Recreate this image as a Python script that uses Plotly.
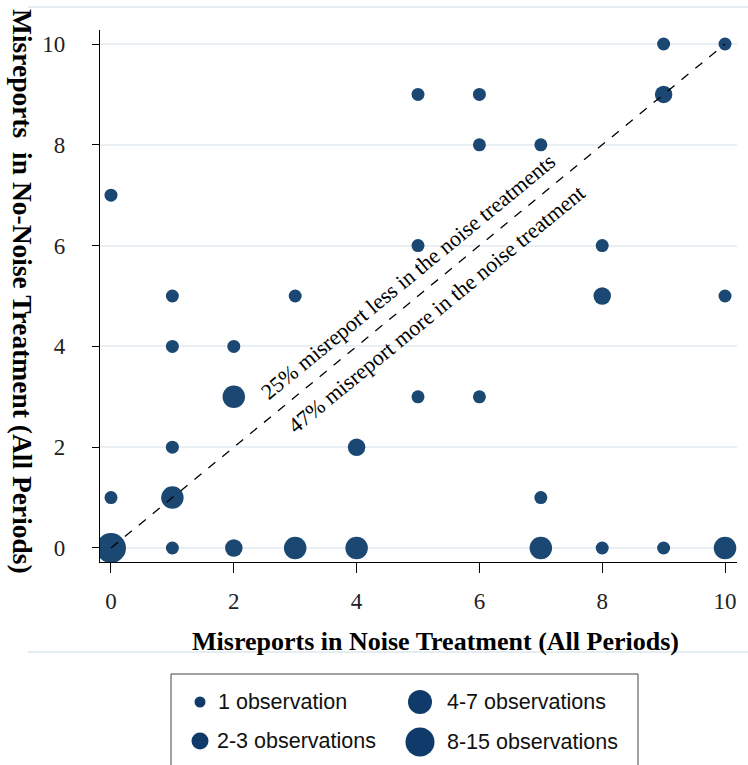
import math
import plotly.graph_objects as go

# ---------------- data ----------------
# misreports in noise treatment (x), in no-noise treatment (y), size class (0..3)
noise_x    = [9, 10, 5, 6, 9, 6, 7, 0, 5, 8, 1, 3, 8, 10, 1, 2, 2, 5, 6, 1, 4, 0, 1, 7, 0, 1, 2, 3, 4, 7, 8, 9, 10]
nonoise_y  = [10, 10, 9, 9, 9, 8, 8, 7, 6, 6, 5, 5, 5, 5, 4, 4, 3, 3, 3, 2, 2, 1, 1, 1, 0, 0, 0, 0, 0, 0, 0, 0, 0]
size_class = [0, 0, 0, 0, 1, 0, 0, 0, 0, 0, 0, 0, 1, 0, 0, 0, 2, 0, 0, 0, 1, 0, 2, 0, 3, 0, 1, 2, 2, 2, 0, 0, 2]

legend_labels = ["1 observation", "2-3 observations", "4-7 observations", "8-15 observations"]
tick_vals = [0, 2, 4, 6, 8, 10]
diag = [0, 10]
note_above = "25% misreport less in the noise treatments"
note_below = "47% misreport more in the noise treatment"
x_title = "Misreports in Noise Treatment (All Periods)"
y_title = "Misreports  in No-Noise Treatment (All Periods)"

# ---------------- styling ----------------
W, H = 748, 765
plot_sizes = [13, 17.5, 22.5, 30]
legend_sizes = [11, 17, 24, 29]
marker_color = "#1b4872"
legend_color = "#0f3a69"
grid_color = "#e9eff3"
serif = "Liberation Serif, Times New Roman, serif"
sans = "Liberation Sans, Arial, sans-serif"

def px(x):
    return x / W

def py(y):
    return 1 - y / H

# plot area in pixels
L, R, T, B = 100, 737, 30, 562
xr = [-0.179, 10.195]
yr = [-0.278, 10.278]

fig = go.Figure()

fig.add_trace(go.Scatter(
    x=noise_x, y=nonoise_y, mode="markers",
    marker=dict(size=[plot_sizes[c] for c in size_class], color=marker_color,
                opacity=1, line=dict(width=0)),
    showlegend=False, hoverinfo="x+y",
))

fig.add_trace(go.Scatter(
    x=diag, y=diag, mode="lines",
    line=dict(color="black", width=1.3, dash="dash"),
    showlegend=False, hoverinfo="skip",
))

# custom legend (second hidden axis pair placed in the legend box)
lx0, lx1, ly0 = 171, 638, 674
col_x = [200, 200, 420, 420]
row_y = [702, 741, 702, 742]
text_x = [216, 215, 445, 445]
fig.add_trace(go.Scatter(
    x=col_x, y=row_y, xaxis="x2", yaxis="y2", mode="markers",
    marker=dict(size=legend_sizes, color=legend_color, opacity=1, line=dict(width=0)),
    showlegend=False, hoverinfo="skip",
))
for i, lab in enumerate(legend_labels):
    fig.add_annotation(x=text_x[i], y=row_y[i], xref="x2", yref="y2", text=lab,
                       showarrow=False, xanchor="left", yanchor="middle",
                       font=dict(family=sans, size=21.5, color="#111111"))

# angle of the diagonal in screen space
sx = (R - L) / (xr[1] - xr[0])
sy = (B - T) / (yr[1] - yr[0])
ang = -math.degrees(math.atan2(sy * (diag[1] - diag[0]), sx * (diag[1] - diag[0])))

fig.add_annotation(x=4.84, y=5.38, xref="x", yref="y", text=note_above, showarrow=False,
                   textangle=ang, font=dict(family=serif, size=22, color="black"))
fig.add_annotation(x=5.29, y=4.74, xref="x", yref="y", text=note_below, showarrow=False,
                   textangle=ang, font=dict(family=serif, size=22, color="black"))

# axis titles
fig.add_annotation(x=px(435.5), y=py(641), xref="paper", yref="paper", text="<b>%s</b>" % x_title,
                   showarrow=False, xanchor="center", yanchor="middle",
                   font=dict(family=serif, size=26, color="black"))
fig.add_annotation(x=px(23), y=py(291), xref="paper", yref="paper", text="<b>%s</b>" % y_title,
                   showarrow=False, xanchor="center", yanchor="middle", textangle=90,
                   font=dict(family=serif, size=27.5, color="black"))

# frame lines and legend box
fig.add_shape(type="line", xref="paper", yref="paper", x0=px(28), x1=px(748), y0=py(7), y1=py(7),
              line=dict(color="#e6edf1", width=2))
fig.add_shape(type="line", xref="paper", yref="paper", x0=px(28), x1=px(748), y0=py(652), y1=py(652),
              line=dict(color="#e6edf1", width=2))
fig.add_shape(type="rect", xref="paper", yref="paper", x0=px(lx0), x1=px(lx1), y0=-0.01, y1=py(ly0),
              line=dict(color="#444444", width=1), layer="below")

fig.update_layout(
    width=W, height=H,
    margin=dict(l=0, r=0, t=0, b=0),
    paper_bgcolor="white", plot_bgcolor="white",
    xaxis=dict(domain=[px(L), px(R)], range=xr, tickmode="array", tickvals=tick_vals,
               showgrid=False, zeroline=False, showline=True, linecolor="black", linewidth=1.3,
               ticks="outside", ticklen=10, tickwidth=1, tickcolor="black",
               ticklabelstandoff=8,
               tickfont=dict(family=serif, size=23, color="#222222")),
    yaxis=dict(domain=[py(B), py(T)], range=yr, tickmode="array", tickvals=tick_vals,
               showgrid=True, gridcolor=grid_color, gridwidth=2, zeroline=False,
               showline=True, linecolor="black", linewidth=1.3,
               ticks="outside", ticklen=7, tickwidth=1, tickcolor="black",
               ticklabelstandoff=22,
               tickfont=dict(family=serif, size=23, color="#222222")),
    xaxis2=dict(domain=[px(lx0), px(lx1)], range=[lx0, lx1], visible=False, anchor="y2"),
    yaxis2=dict(domain=[0, py(ly0)], range=[H, ly0], visible=False, anchor="x2"),
    showlegend=False,
)

fig.write_html("out.html")
